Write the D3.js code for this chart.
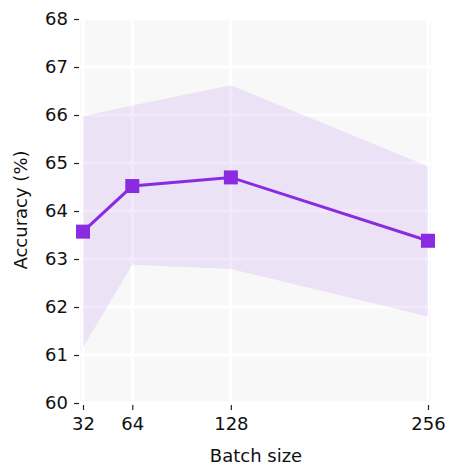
<!DOCTYPE html>
<html>
<head>
<meta charset="utf-8">
<script src="https://cdn.jsdelivr.net/npm/d3@7"></script>
<style>
  body { margin: 0; background: #fff; }
  svg text { font-family: "DejaVu Sans", sans-serif; fill: #111; }
</style>
</head>
<body>
<div id="chart"></div>
<script>
  let batchSizes = [32, 64, 128, 256];
  let meanAcc = [63.57, 64.52, 64.70, 63.38];
  let upperAcc = [65.98, 66.20, 66.62, 64.93];
  let lowerAcc = [61.15, 62.88, 62.79, 61.80];
  let yTicks = [60, 61, 62, 63, 64, 65, 66, 67, 68];

  let width = 451, height = 467;
  let color = "#8a2be2";

  let svg = d3.select("#chart").append("svg")
    .attr("width", width)
    .attr("height", height);

  let x = d3.scaleLinear().domain([32, 256]).range([83, 428]);
  let y = d3.scaleLinear().domain([60, 68]).range([403, 19]);

  let data = batchSizes.map((b, i) => ({b: b, m: meanAcc[i], lo: lowerAcc[i], hi: upperAcc[i]}));

  // plot background
  svg.append("rect")
    .attr("x", x(32) - 3)
    .attr("y", y(68))
    .attr("width", x(256) - x(32) + 6)
    .attr("height", y(60) - y(68))
    .attr("fill", "#f8f8f8");

  // grid lines
  let grid = svg.append("g").attr("class", "grid");
  grid.selectAll(".gy").data(yTicks).enter().append("line")
    .attr("x1", x(32) - 3).attr("x2", x(256) + 3)
    .attr("y1", d => y(d)).attr("y2", d => y(d))
    .attr("stroke", "#fff").attr("stroke-width", 3);
  grid.selectAll(".gx").data(batchSizes).enter().append("line")
    .attr("x1", d => x(d)).attr("x2", d => x(d))
    .attr("y1", y(68)).attr("y2", y(60))
    .attr("stroke", "#fff").attr("stroke-width", 3);

  // std band
  let area = d3.area()
    .x(d => x(d.b))
    .y0(d => y(d.lo))
    .y1(d => y(d.hi));
  svg.append("path")
    .datum(data)
    .attr("d", area)
    .attr("fill", color)
    .attr("fill-opacity", 0.1);

  // mean line
  let line = d3.line().x(d => x(d.b)).y(d => y(d.m));
  svg.append("path")
    .datum(data)
    .attr("d", line)
    .attr("fill", "none")
    .attr("stroke", color)
    .attr("stroke-width", 3);

  let sq = 14;
  svg.selectAll(".marker").data(data).enter().append("rect")
    .attr("x", d => x(d.b) - sq / 2)
    .attr("y", d => y(d.m) - sq / 2)
    .attr("width", sq).attr("height", sq)
    .attr("fill", color);

  // axes
  let yAxis = d3.axisLeft(y).tickValues(yTicks).tickSize(5).tickPadding(6).tickFormat(d3.format("d"));
  let gy = svg.append("g").attr("transform", "translate(" + (x(32) - 4) + ",0)").call(yAxis);
  gy.select(".domain").remove();
  gy.selectAll("text").style("font-size", "18px").style("font-family", "DejaVu Sans");
  gy.selectAll("line").attr("stroke", "#222").attr("stroke-width", 1.2);

  let xAxis = d3.axisBottom(x).tickValues(batchSizes).tickSize(5).tickPadding(7).tickFormat(d3.format("d"));
  let gx = svg.append("g").attr("transform", "translate(0," + (y(60) + 2) + ")").call(xAxis);
  gx.select(".domain").remove();
  gx.selectAll("text").style("font-size", "18px").style("font-family", "DejaVu Sans");
  gx.selectAll("line").attr("stroke", "#222").attr("stroke-width", 1.2);

  // labels
  svg.append("text")
    .attr("x", 256)
    .attr("y", 462)
    .attr("text-anchor", "middle")
    .style("font-size", "18px")
    .text("Batch size");

  svg.append("text")
    .attr("transform", "translate(27," + 210 + ") rotate(-90)")
    .attr("text-anchor", "middle")
    .style("font-size", "18px")
    .text("Accuracy (%)");
</script>
</body>
</html>
